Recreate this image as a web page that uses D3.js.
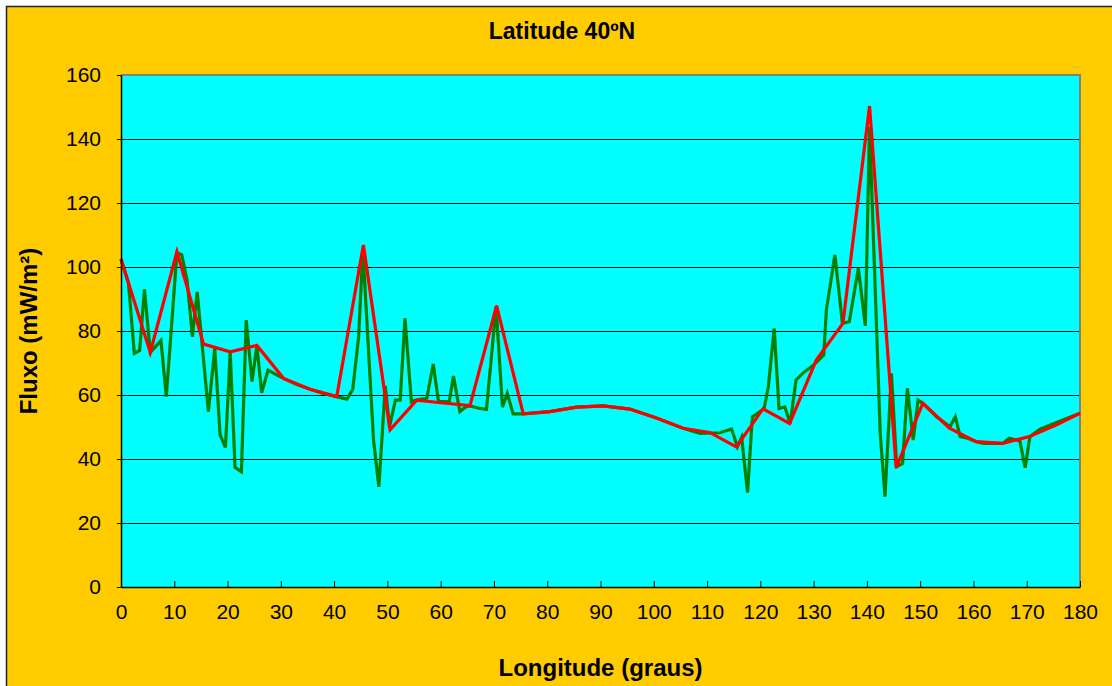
<!DOCTYPE html>
<html>
<head>
<meta charset="utf-8">
<script src="https://cdn.jsdelivr.net/npm/d3@7"></script>
<style>
  body { margin: 0; background: #fff; }
  svg text { font-family: "Liberation Sans", Arial, sans-serif; fill: #000; }
</style>
</head>
<body>
<div id="chart"></div>
<script>
// Title and axis labels
const chartTitle = 'Latitude 40\u00BAN';
const xLabel = 'Longitude (graus)';
const yLabel = 'Fluxo (mW/m\u00B2)';

// Tick values
const xTicks = [0, 10, 20, 30, 40, 50, 60, 70, 80, 90, 100, 110, 120, 130, 140, 150, 160, 170, 180];
const yTicks = [0, 20, 40, 60, 80, 100, 120, 140, 160];

// Green series (detailed profile)
const lonGreen = [0, 1.4, 2.5, 3.5, 4.4, 5.5, 7.5, 8.5, 10.5, 11.4, 12.4, 13.4, 14.3, 16.4, 17.6, 18.6, 19.6, 20.5,
    21.4, 22.6, 23.5, 24.6, 25.5, 26.4, 27.6, 29.2, 30.5, 33, 35.5, 38, 40.4, 42.4, 43.5, 44.6, 45.4, 47.4, 48.4,
    49.6, 50.4, 51.5, 52.4, 53.3, 54.5, 55.4, 57.4, 58.6, 59.6, 61.6, 62.4, 63.6, 64.6, 65.5, 67.4, 68.6, 70.4,
    71.6, 72.5, 73.6, 75.5, 80.5, 85.5, 90.5, 95.5, 100.5, 105.5, 108.7, 112.4, 114.6, 115.7, 116.5, 117.6, 118.5,
    120.7, 121.5, 122.6, 123.5, 124.6, 125.6, 126.7, 128.1, 130, 131.9, 132.4, 134, 135.4, 136.7, 138.4, 139.7,
    140.5, 142.5, 143.4, 144.6, 145.6, 146.7, 147.6, 148.7, 149.6, 150.5, 153.1, 155.6, 156.6, 157.5, 158.9,
    160.6, 161.9, 165.6, 166.7, 168.7, 169.7, 170.6, 172.5, 174.4, 180];
const fluxGreen = [102.4, 95, 73.0, 73.9, 93.0, 73.3, 77.0, 59.5, 104.5, 103.8, 95.9, 78.2, 92.2, 54.8, 74.6, 47.5, 43.6, 73.5,
    37.4, 36.0, 83.4, 64.2, 75.5, 60.7, 67.8, 66.3, 65.2, 63.3, 61.8, 60.5, 59.5, 58.7, 61.8, 78.2, 105.3, 45.9, 31.3,
    62.8, 50.1, 58.4, 58.4, 84.0, 57.9, 58.4, 59.0, 69.7, 57.9, 57.9, 65.9, 54.8, 56.2, 56.6, 55.8, 55.5, 87.6,
    56.2, 60.5, 54.1, 54.1, 54.8, 56.2, 56.6, 55.6, 52.8, 49.6, 48.0, 48.2, 49.4, 43.8, 46.8, 29.5, 53.2,
    55.7, 62.6, 80.8, 55.8, 56.3, 51.1, 64.7, 67.0, 69.4, 72.5, 86.6, 103.8, 82.4, 82.9, 99.6, 81.6,
    143.8, 48.0, 28.2, 66.8, 37.6, 38.6, 62.1, 45.9, 58.4, 57.4, 53.2, 50.1, 53.2, 47.0, 46.5,
    45.4, 44.9, 44.9, 46.5, 45.7, 37.3, 47.0, 49.3, 50.6, 54.3];

// Red series (5-degree profile)
const lonRed = [0, 5.5, 10.5, 15.5, 20.5, 25.5, 30.5, 35.5, 40.5, 45.5, 50.5, 55.5, 60.5, 65.5, 70.5, 75.5, 80.5, 85.5,
    90.5, 95.5, 100.5, 105.5, 110.5, 115.5, 120.5, 125.5, 130.5, 135.5, 140.5, 145.5, 150.5, 155.5, 160.5, 165.5,
    170.5, 175.5, 180];
const fluxRed = [102.5, 73.3, 104.8, 75.9, 73.5, 75.5, 65.2, 61.8, 59.5, 106.9, 49.1, 58.4, 57.5, 56.7, 87.9, 54.1, 54.8, 56.2,
    56.6, 55.6, 52.8, 49.6, 48.3, 43.8, 55.7, 51.1, 70.9, 82.4, 150.3, 37.3, 57.4, 49.6, 45.4, 44.9,
    47.0, 50.6, 54.3];

const W = 1112, H = 686;
const plot = { left: 121, top: 75, right: 1080, bottom: 587 };

const svg = d3.select('#chart')
    .append('svg')
    .attr('width', W)
    .attr('height', H);

// Chart area background
svg.append('rect')
    .attr('x', 6.5).attr('y', 6.5)
    .attr('width', W + 20).attr('height', H + 20)
    .attr('fill', '#FFCC00')
    .attr('stroke', '#222')
    .attr('stroke-width', 1.5);

const x = d3.scaleLinear().domain([0, 180]).range([plot.left, plot.right]);
const y = d3.scaleLinear().domain([0, 160]).range([plot.bottom, plot.top]);

// Plot area
svg.append('rect')
    .attr('x', plot.left).attr('y', plot.top)
    .attr('width', plot.right - plot.left).attr('height', plot.bottom - plot.top)
    .attr('fill', '#00FFFF');

// Gridlines
svg.append('g')
    .selectAll('line')
    .data(yTicks.filter(d => d > 0 && d < 160))
    .enter()
    .append('line')
    .attr('x1', plot.left).attr('x2', plot.right)
    .attr('y1', d => Math.round(y(d)) + 0.5).attr('y2', d => Math.round(y(d)) + 0.5)
    .attr('stroke', '#000')
    .attr('stroke-width', 1)
    .attr('shape-rendering', 'crispEdges');

// Plot border top/right
svg.append('path')
    .attr('d', `M${plot.left},${plot.top}H${plot.right}V${plot.bottom}`)
    .attr('fill', 'none')
    .attr('stroke', '#808080')
    .attr('stroke-width', 2);

// Lines
const line = d3.line().x(d => x(d[0])).y(d => y(d[1]));

svg.append('path')
    .datum(lonGreen.map((d, i) => [d, fluxGreen[i]]))
    .attr('d', line)
    .attr('fill', 'none')
    .attr('stroke', '#008000')
    .attr('stroke-width', 3.2)
    .attr('stroke-linejoin', 'miter');

svg.append('path')
    .datum(lonRed.map((d, i) => [d, fluxRed[i]]))
    .attr('d', line)
    .attr('fill', 'none')
    .attr('stroke', '#FF0000')
    .attr('stroke-width', 3.2)
    .attr('stroke-linejoin', 'miter');

// X axis
const xAxis = svg.append('g')
    .attr('transform', `translate(0,${plot.bottom})`)
    .call(d3.axisBottom(x).tickValues(xTicks).tickSizeInner(-6).tickSizeOuter(0).tickPadding(30));
xAxis.select('.domain').attr('stroke', '#000').attr('stroke-width', 1.5);
xAxis.selectAll('text').style('font-size', '21px').attr('dy', '0.1em');

// Y axis
const yAxis = svg.append('g')
    .attr('transform', `translate(${plot.left},0)`)
    .call(d3.axisLeft(y).tickValues(yTicks).tickSizeInner(4).tickSizeOuter(0).tickPadding(16));
yAxis.select('.domain').attr('stroke', '#000').attr('stroke-width', 1.5);
yAxis.selectAll('text').style('font-size', '21px');

// Title
svg.append('text')
    .attr('x', 562).attr('y', 39)
    .attr('text-anchor', 'middle')
    .style('font-size', '23px').style('font-weight', 'bold')
    .text(chartTitle);

// Axis titles
svg.append('text')
    .attr('x', (plot.left + plot.right) / 2).attr('y', 676)
    .attr('text-anchor', 'middle')
    .style('font-size', '24px').style('font-weight', 'bold')
    .text(xLabel);

svg.append('text')
    .attr('transform', `translate(37,${(plot.top + plot.bottom) / 2}) rotate(-90)`)
    .attr('text-anchor', 'middle')
    .style('font-size', '24px').style('font-weight', 'bold')
    .text(yLabel);
</script>
</body>
</html>
